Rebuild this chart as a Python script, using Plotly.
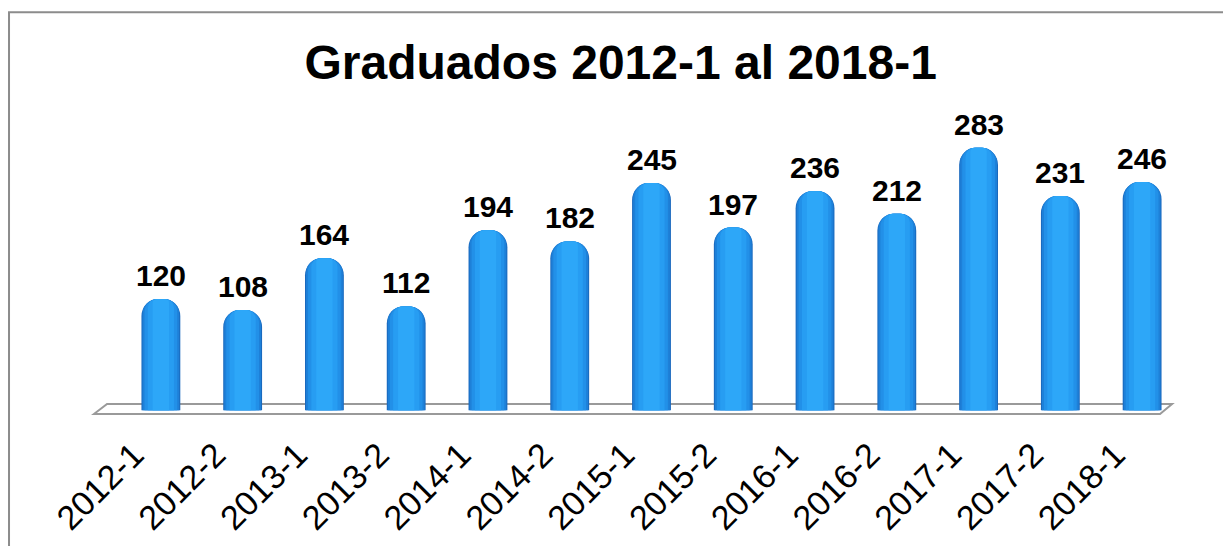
import plotly.graph_objects as go

categories = ["2012-1", "2012-2", "2013-1", "2013-2", "2014-1", "2014-2", "2015-1",
              "2015-2", "2016-1", "2016-2", "2017-1", "2017-2", "2018-1"]
graduados = [120, 108, 164, 112, 194, 182, 245, 197, 236, 212, 283, 231, 246]
title_text = "Graduados 2012-1 al 2018-1"

# cylinder shading layers: (width, color, corner radius)
layers = [
    (0.475, "#1A69BE", 17),
    (0.45, "#1E80D8", 15),
    (0.40, "#2290E8", 13),
    (0.32, "#279DF2", 9),
    (0.20, "#2DA7F8", 4),
]

fig = go.Figure()
for w, c, r in layers:
    fig.add_trace(go.Bar(
        x=categories, y=graduados, width=w,
        marker=dict(color=c, line=dict(width=0), cornerradius=r),
        hoverinfo="skip", showlegend=False,
    ))

for cat, val in zip(categories, graduados):
    fig.add_annotation(x=cat, y=val, text=f"<b>{val}</b>", showarrow=False,
                       yanchor="bottom", yshift=5,
                       font=dict(family="Liberation Sans, Arial", size=30, color="black"))

# floor plate
fig.add_shape(type="path", xref="paper", yref="paper",
              path="M -0.0245 0 L -0.0122 0.0355 L 0.9897 0.0355 L 0.9784 0 Z",
              line=dict(color="#9A9A9A", width=2), fillcolor="white", layer="below")
# chart border
fig.add_shape(type="rect", xref="paper", yref="paper",
              x0=-0.1044, x1=1.2, y0=-1.0, y1=1.4245,
              line=dict(color="#8C8C8C", width=2), fillcolor="rgba(0,0,0,0)", layer="below")

fig.update_layout(
    width=1231, height=546,
    margin=dict(l=112, r=56, t=124, b=140, autoexpand=False),
    paper_bgcolor="white", plot_bgcolor="white",
    barmode="overlay",
    title=dict(text=f"<b>{title_text}</b>", x=0.471, xref="paper", xanchor="center",
               y=0.9, yanchor="middle",
               font=dict(family="Liberation Sans, Arial", size=48, color="black")),
    xaxis=dict(type="category", range=[-0.5, 12.5], showgrid=False, showline=False,
               zeroline=False, automargin=False,
               tickangle=-45, ticks="", ticklabelstandoff=13, ticklabelshift=-27,
               tickfont=dict(family="Liberation Sans, Arial", size=34, color="black")),
    yaxis=dict(range=[-4, 300], visible=False, automargin=False),
)

fig.write_html("out.html")
